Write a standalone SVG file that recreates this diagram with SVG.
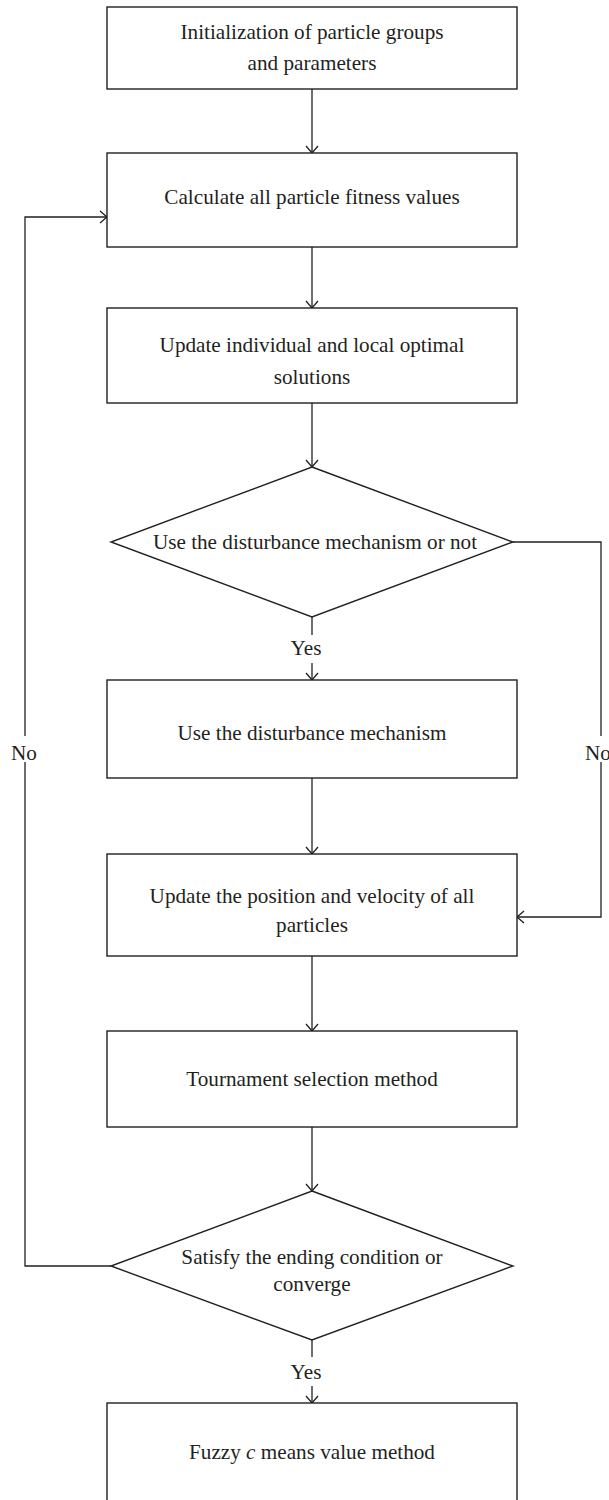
<svg xmlns="http://www.w3.org/2000/svg" width="609" height="1500" viewBox="0 0 609 1500">
<defs>
<style>
.box{fill:#fff;stroke:#231f20;stroke-width:1.4}
.ln{fill:none;stroke:#231f20;stroke-width:1.3}
text{font-family:"Liberation Serif","Times New Roman",serif;font-size:21.2px;fill:#231f20}
.c{text-anchor:middle}
</style>
<marker id="ah" viewBox="-8 -7 9 14" markerWidth="9" markerHeight="14" refX="0" refY="0" orient="auto" markerUnits="userSpaceOnUse">
<path d="M-7,-6 L0,0 L-7,6" fill="none" stroke="#231f20" stroke-width="1.3"/>
</marker>
</defs>
<rect width="609" height="1500" fill="#fff"/>
<g id="connectors">
<line class="ln" x1="312" y1="89" x2="312" y2="153" marker-end="url(#ah)"/>
<line class="ln" x1="312" y1="247" x2="312" y2="308" marker-end="url(#ah)"/>
<line class="ln" x1="312" y1="403" x2="312" y2="467" marker-end="url(#ah)"/>
<line class="ln" x1="312" y1="617" x2="312" y2="635"/>
<line class="ln" x1="312" y1="663" x2="312" y2="680" marker-end="url(#ah)"/>
<line class="ln" x1="312" y1="778" x2="312" y2="854" marker-end="url(#ah)"/>
<line class="ln" x1="312" y1="956" x2="312" y2="1031" marker-end="url(#ah)"/>
<line class="ln" x1="312" y1="1127" x2="312" y2="1191" marker-end="url(#ah)"/>
<line class="ln" x1="312" y1="1340" x2="312" y2="1357"/>
<line class="ln" x1="312" y1="1386" x2="312" y2="1403" marker-end="url(#ah)"/>
<polyline class="ln" points="513,542 601,542 601,736"/>
<polyline class="ln" points="601,762 601,917 517,917" marker-end="url(#ah)"/>
<polyline class="ln" points="111,1266 25,1266 25,762"/>
<polyline class="ln" points="25,736 25,217 107,217" marker-end="url(#ah)"/>
<text x="306" y="655" class="c">Yes</text>
<text x="306" y="1379" class="c">Yes</text>
<text x="11" y="760">No</text>
<text x="585" y="760">No</text>
</g>
<g id="n1">
<rect class="box" x="107" y="7" width="410" height="82"/>
<text x="312" y="39" class="c">Initialization of particle groups</text>
<text x="312" y="70" class="c">and parameters</text>
</g>
<g id="n2">
<rect class="box" x="107" y="153" width="410" height="94"/>
<text x="312" y="204" class="c">Calculate all particle fitness values</text>
</g>
<g id="n3">
<rect class="box" x="107" y="308" width="410" height="95"/>
<text x="312" y="352" class="c">Update individual and local optimal</text>
<text x="312" y="384" class="c">solutions</text>
</g>
<g id="d1">
<polygon class="box" points="312,467 513,542 312,617 111,542"/>
<text x="315" y="549" class="c">Use the disturbance mechanism or not</text>
</g>
<g id="n4">
<rect class="box" x="107" y="680" width="410" height="98"/>
<text x="312" y="740" class="c">Use the disturbance mechanism</text>
</g>
<g id="n5">
<rect class="box" x="107" y="854" width="410" height="102"/>
<text x="312" y="903" class="c">Update the position and velocity of all</text>
<text x="312" y="932" class="c">particles</text>
</g>
<g id="n6">
<rect class="box" x="107" y="1031" width="410" height="96"/>
<text x="312" y="1086" class="c">Tournament selection method</text>
</g>
<g id="d2">
<polygon class="box" points="312,1191 513,1266 312,1340 111,1266"/>
<text x="312" y="1264" class="c">Satisfy the ending condition or</text>
<text x="312" y="1291" class="c">converge</text>
</g>
<g id="n7">
<rect class="box" x="107" y="1403" width="410" height="110"/>
<text x="312" y="1459" class="c">Fuzzy <tspan font-style="italic">c</tspan> means value method</text>
</g>
</svg>
